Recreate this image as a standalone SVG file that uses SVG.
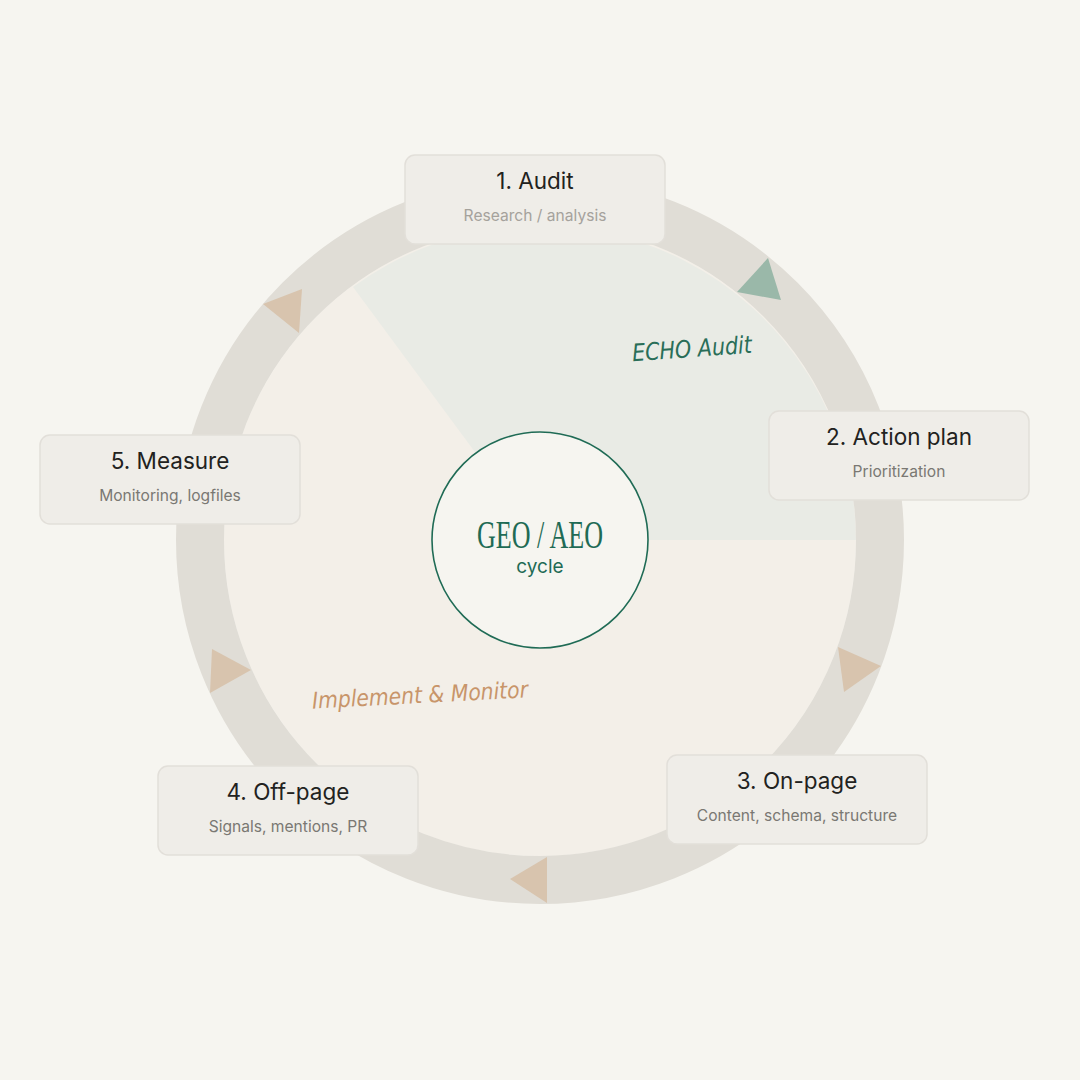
<svg xmlns="http://www.w3.org/2000/svg" width="1080" height="1080" viewBox="0 0 1080 1080">
<style>
.box{fill:#efede8;stroke:#e2dfd9;stroke-width:1.5}
.title{font-family:Inter,"Noto Sans",sans-serif;font-size:22.5px;fill:#222220;text-anchor:middle}
.sub{font-family:Inter,"Noto Sans",sans-serif;font-size:15.6px;fill:#7a7873;text-anchor:middle}
.arr-b{fill:#d8c4ae}
.arr-g{fill:#9ab8a9}
</style>
<rect width="1080" height="1080" fill="#f6f5f0"/>
<g id="wheel">
<circle cx="540" cy="540" r="316" fill="#f3efe8"/>
<path d="M540,540 L353,287 A316,316 0 0 1 856,540 Z" fill="#e9ebe5"/>
</g>
<g id="connectors">
<circle cx="540" cy="540" r="340" fill="none" stroke="#e0ddd6" stroke-width="48"/>
<polygon class="arr-g" points="768,258 781,300 737,292"/>
<polygon class="arr-b" points="838,647 881,666 844,692"/>
<polygon class="arr-b" points="547,857 510,879 547,903"/>
<polygon class="arr-b" points="212,649 251,670 210,693"/>
<polygon class="arr-b" points="302,289 263,304 299,333"/>
</g>
<g id="label-echo">
<text x="692" y="357" transform="rotate(-4 692 350)" font-family="'DejaVu Sans',sans-serif" font-style="italic" font-size="24" fill="#2a6e58" text-anchor="middle" textLength="120" lengthAdjust="spacingAndGlyphs">ECHO Audit</text>
</g>
<g id="label-implement">
<text x="420" y="703" transform="rotate(-3 420 695)" font-family="'DejaVu Sans',sans-serif" font-style="italic" font-size="23" fill="#c8956a" text-anchor="middle" textLength="216" lengthAdjust="spacingAndGlyphs">Implement &amp; Monitor</text>
</g>
<g id="center">
<circle cx="540" cy="540" r="108" fill="#f6f5f0" stroke="#1f6b55" stroke-width="1.6"/>
<text x="540" y="548" font-family="'Liberation Serif',serif" font-size="40" fill="#1f6b55" text-anchor="middle" textLength="126" lengthAdjust="spacingAndGlyphs">GEO / AEO</text>
<text x="540" y="573" font-family="Inter,'Noto Sans',sans-serif" font-size="19" fill="#1f6b55" text-anchor="middle">cycle</text>
</g>
<g id="node1">
<rect class="box" x="405" y="155" width="260" height="89" rx="10"/>
<text class="title" x="535" y="189">1. Audit</text>
<text class="sub" x="535" y="221" style="fill:#a5a29c">Research / analysis</text>
</g>
<g id="node2">
<rect class="box" x="769" y="411" width="260" height="89" rx="10"/>
<text class="title" x="899" y="445">2. Action plan</text>
<text class="sub" x="899" y="477">Prioritization</text>
</g>
<g id="node3">
<rect class="box" x="667" y="755" width="260" height="89" rx="10"/>
<text class="title" x="797" y="789">3. On-page</text>
<text class="sub" x="797" y="821">Content, schema, structure</text>
</g>
<g id="node4">
<rect class="box" x="158" y="766" width="260" height="89" rx="10"/>
<text class="title" x="288" y="800">4. Off-page</text>
<text class="sub" x="288" y="832">Signals, mentions, PR</text>
</g>
<g id="node5">
<rect class="box" x="40" y="435" width="260" height="89" rx="10"/>
<text class="title" x="170" y="469">5. Measure</text>
<text class="sub" x="170" y="501">Monitoring, logfiles</text>
</g>
</svg>
